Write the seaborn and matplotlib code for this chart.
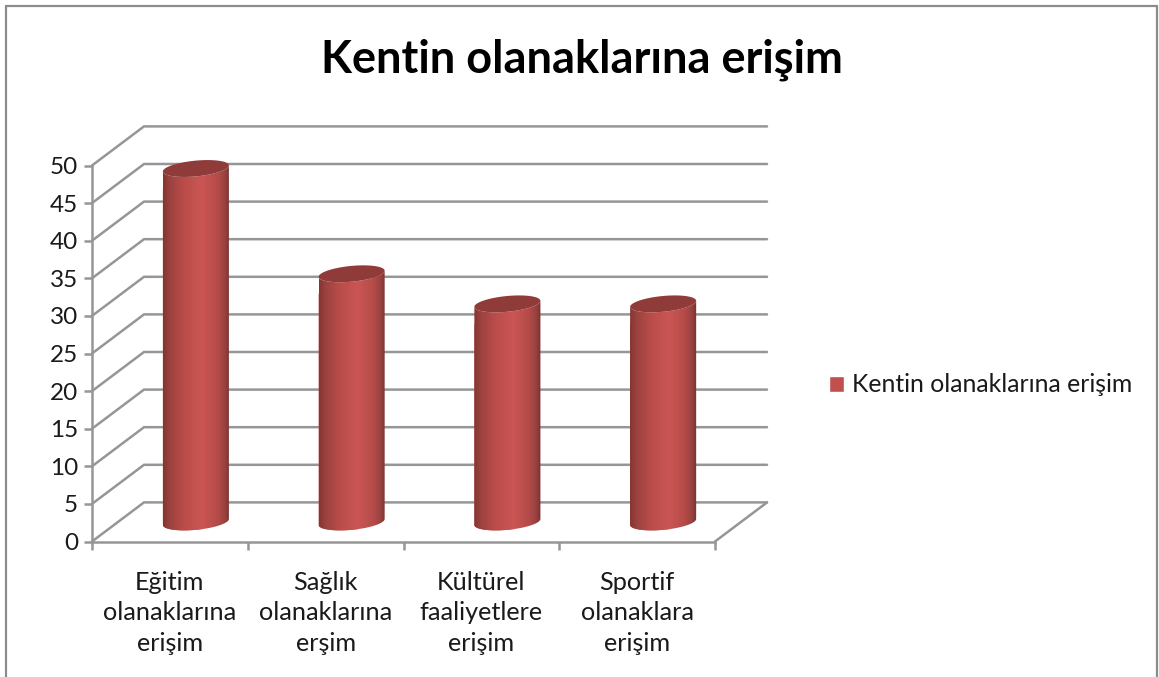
import numpy as np
import matplotlib
matplotlib.use('Agg')
import matplotlib.pyplot as plt
import seaborn as sns
from matplotlib.colors import LinearSegmentedColormap
from matplotlib.lines import Line2D
from matplotlib.patches import Polygon

title = 'Kentin olanaklarına erişim'
series_name = 'Kentin olanaklarına erişim'
categories = ['Eğitim\nolanaklarına\nerişim', 'Sağlık\nolanaklarına\nerşim',
              'Kültürel\nfaaliyetlere\nerişim', 'Sportif\nolanaklara\nerişim']
values = [47, 33, 29, 29]
y_ticks = list(range(0, 55, 5))

W, H = 1159, 677
GREY = '#969696'
TEXT = '#1a1a1a'
# depth of the fake 3d box, in data units
DX = 0.334
DY = 5.2

sns.set_theme(style='white')
plt.rcParams['font.family'] = ['Lato', 'DejaVu Sans']

fig = plt.figure(figsize=(W / 100, H / 100), dpi=100, facecolor='white')
ax = fig.add_axes([92 / W, 1 - 541.5 / H, 623 / W, 376 / H])

sns.barplot(x=categories, y=values, ax=ax, color='#c0504d', saturation=1,
            width=0.424, label=series_name, zorder=3)
ax.set_xlim(-0.5, 3.5)
ax.set_ylim(0, 50)

# back wall gridlines and side wall
for v in y_ticks:
    ax.plot([-0.5, -0.5 + DX, 3.5 + DX], [v, v + DY, v + DY], color=GREY, lw=1.8,
            clip_on=False, zorder=1, solid_joinstyle='miter')
ax.plot([3.5, 3.5 + DX], [0, DY], color=GREY, lw=1.8, clip_on=False, zorder=1)

# cylinders on top of the seaborn bars
shade = LinearSegmentedColormap.from_list(
    'cyl', [(0, '#84352f'), (0.1, '#9b4240'), (0.3, '#b84c49'), (0.58, '#cb5654'),
            (0.82, '#b44b48'), (0.93, '#974240'), (1, '#78302e')])
gradient = np.linspace(0, 1, 256).reshape(1, -1)
t_low = np.linspace(np.pi, 2 * np.pi, 60)
t_all = np.linspace(0, 2 * np.pi, 120)
for bar in ax.patches:
    cx = bar.get_x() + bar.get_width() / 2 + DX / 2
    a = bar.get_width() / 2
    y0 = DY / 2
    y1 = bar.get_height() + DY / 2
    b, tilt = 1.05, 0.4
    low = np.column_stack([cx + a * np.cos(t_low), y0 + b * np.sin(t_low) + tilt * np.cos(t_low)])
    up = np.column_stack([cx + a * np.cos(t_low), y1 + b * np.sin(t_low) + tilt * np.cos(t_low)])[::-1]
    body = Polygon(np.vstack([low, up]), closed=True, fc='none', ec='none', transform=ax.transData)
    ax.add_patch(body)
    bar.set_clip_path(body)
    im = ax.imshow(gradient, cmap=shade, aspect='auto', zorder=3.1,
                   extent=[cx - a, cx + a, y0 - 2, y1 + 2])
    im.set_clip_path(body)
    top = np.column_stack([cx + a * np.cos(t_all), y1 + b * np.sin(t_all) + tilt * np.cos(t_all)])
    ax.add_patch(Polygon(top, closed=True, fc='#8f3b39', ec='none', zorder=3.2, clip_on=False))
ax.set_xlim(-0.5, 3.5)
ax.set_ylim(0, 50)

for side in ['top', 'right']:
    ax.spines[side].set_visible(False)
for side in ['left', 'bottom']:
    ax.spines[side].set_color(GREY)
    ax.spines[side].set_linewidth(1.8)

ax.set_yticks(y_ticks)
ax.set_xticks(np.arange(-0.5, 4, 1))
ax.set_xticklabels([])
ax.set_xticks(range(4), categories, minor=True)
ax.tick_params(axis='y', left=True, length=6, width=1.8, color=GREY, labelsize=17.5, labelcolor=TEXT, pad=4)
ax.tick_params(axis='x', which='major', bottom=True, length=6, width=1.8, color=GREY)
ax.tick_params(axis='x', which='minor', bottom=False, labelsize=18.2, labelcolor=TEXT, pad=17)
for lab in ax.get_xticklabels(minor=True):
    lab.set_linespacing(1.4)

fig.text(582 / W, 1 - 60 / H, title, fontsize=32.5, fontweight='bold', color='black',
         ha='center', va='center')

ax.legend(loc='center left', bbox_to_anchor=(829 / W, 1 - 385 / H),
          bbox_transform=fig.transFigure, frameon=False, fontsize=17.8,
          labelcolor=TEXT, handlelength=0.62, handleheight=0.62, handletextpad=0.32,
          borderpad=0, borderaxespad=0)

# outer chart frame
for xs, ys in [([6, 6], [6, H]), ([6, 1157], [6, 6]), ([1157, 1157], [6, H])]:
    fig.add_artist(Line2D([x / W for x in xs], [1 - y / H for y in ys], color='#8c8c8c', lw=1.6))

fig.savefig('out.png', dpi=100)
